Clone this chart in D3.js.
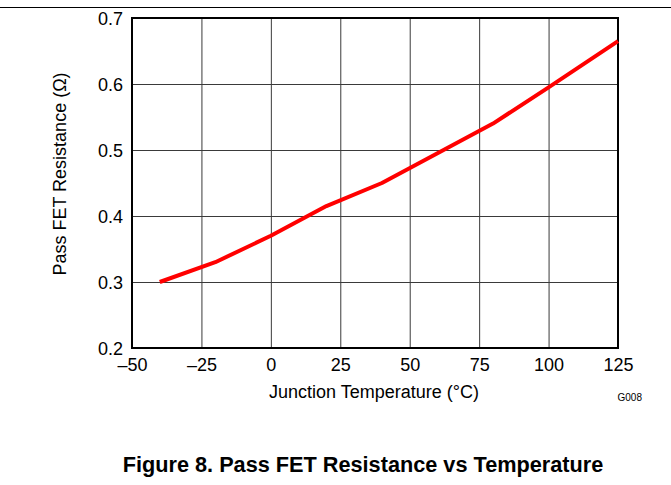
<!DOCTYPE html>
<html><head><meta charset="utf-8">
<script src="https://cdn.jsdelivr.net/npm/d3@7"></script>
<style>body{margin:0;background:#fff}svg{display:block}text{font-family:"Liberation Sans",Arial,sans-serif}</style>
</head><body>
<script>
const temps = [-40, -20, 0, 20, 40, 60, 80, 100, 125];
const resistance = [0.30, 0.33, 0.37, 0.415, 0.45, 0.495, 0.54, 0.595, 0.665];
const xTicks = [-50, -25, 0, 25, 50, 75, 100, 125];
const yTicks = [0.2, 0.3, 0.4, 0.5, 0.6, 0.7];

const W = 671, H = 485;
const svg = d3.select("body").append("svg").attr("width", W).attr("height", H);
const L = 132, R = 618, T = 18, B = 348;
const x = d3.scaleLinear().domain([-50, 125]).range([L, R]);
const y = d3.scaleLinear().domain([0.2, 0.7]).range([B, T]);

svg.append("line").attr("x1", 0).attr("x2", W).attr("y1", 7.5).attr("y2", 7.5).attr("stroke", "#000").attr("stroke-width", 1);

const fmtX = d => d < 0 ? "\u2013" + Math.abs(d) : String(d);
const FS = 18;

const gx = svg.append("g").attr("transform", `translate(0,${B})`)
  .call(d3.axisBottom(x).tickValues(xTicks).tickSize(-(B - T)).tickFormat(fmtX).tickPadding(0));
gx.select(".domain").remove();
gx.selectAll(".tick line").attr("stroke", "#3a3a3a").attr("stroke-width", 1);
gx.selectAll(".tick text").attr("font-size", FS).attr("fill", "#000").attr("dy", null).attr("y", 23);

const gy = svg.append("g").attr("transform", `translate(${L},0)`)
  .call(d3.axisLeft(y).tickValues(yTicks).tickSize(-(R - L)).tickFormat(d3.format(".1f")).tickPadding(9));
gy.select(".domain").remove();
gy.selectAll(".tick line").attr("stroke", "#3a3a3a").attr("stroke-width", 1);
gy.selectAll(".tick text").attr("font-size", FS).attr("fill", "#000").attr("dy", "0.35em");

svg.append("rect").attr("x", L).attr("y", T).attr("width", R - L).attr("height", B - T)
  .attr("fill", "none").attr("stroke", "#000").attr("stroke-width", 2);

const data = temps.map((t, i) => [t, resistance[i]]);
svg.append("path").datum(data)
  .attr("d", d3.line().x(d => x(d[0])).y(d => y(d[1])))
  .attr("fill", "none").attr("stroke", "#ff0000").attr("stroke-width", 4).attr("stroke-linejoin", "round");

svg.append("text").attr("x", 374).attr("y", 398).attr("text-anchor", "middle")
  .attr("font-size", FS).text("Junction Temperature (°C)");
svg.append("text").attr("transform", `translate(66,174) rotate(-90)`).attr("text-anchor", "middle")
  .attr("font-size", FS).text("Pass FET Resistance (Ω)");
svg.append("text").attr("x", 642).attr("y", 401).attr("text-anchor", "end")
  .attr("font-size", 10).text("G008");
svg.append("text").attr("x", 363).attr("y", 472).attr("text-anchor", "middle")
  .attr("font-size", 21.7).attr("font-weight", "bold").text("Figure 8. Pass FET Resistance vs Temperature");
</script>
</body></html>
